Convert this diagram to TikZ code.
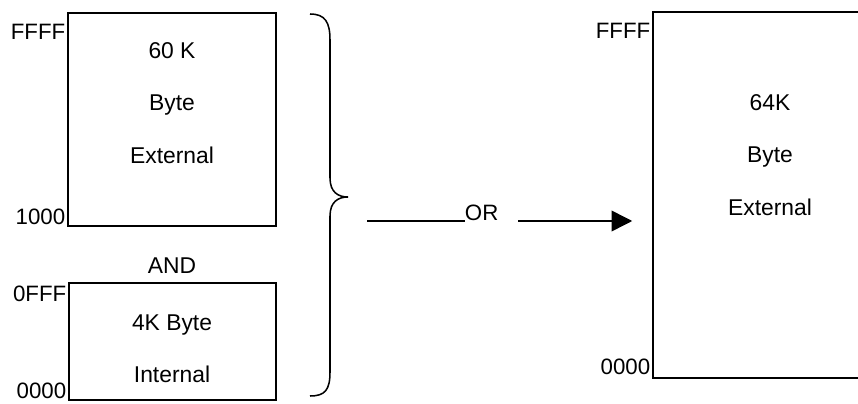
\documentclass[tikz,border=0pt]{standalone}
\usepackage{fontspec}
\setmainfont{Liberation Sans}
\usepackage{tikz}
\usetikzlibrary{arrows.meta, positioning, calc}
\tikzstyle{mem} = [rectangle, draw=black, line width=1.3pt, inner sep=0pt]
\tikzstyle{addr} = [inner sep=1.5pt, font=\fontsize{19}{22}\selectfont]
\tikzstyle{txt} = [align=center, font=\fontsize{19.5}{45}\selectfont]
\tikzstyle{line} = [line width=1.3pt]
\tikzstyle{arrow} = [line width=1.3pt, -{Triangle[length=0.62cm, width=0.62cm]}]

\begin{document}
\begin{tikzpicture}
    \useasboundingbox (0,0) rectangle (25.74,12.09);
    \clip (0,0) rectangle (25.74,12.09);

    % the two parts of the split memory
    \node (memhi) [mem, minimum width=6.24cm, minimum height=6.39cm] at (5.16,8.505) {};
    \node (memlo) [mem, minimum width=6.21cm, minimum height=3.51cm] at (5.175,1.845) {};
    % the single external memory (runs off the right edge)
    \node (memall) [mem, minimum width=7.02cm, minimum height=10.98cm] at (23.1,6.24) {};

    \node (txthi) [txt] at (5.16,9.0) {60 K\\Byte\\External};
    \node (txtlo) [txt] at (5.16,1.63) {4K Byte\\Internal};
    \node (txtall) [txt] at (23.1,7.44) {64K\\Byte\\External};
    \node (and) [txt, below=0.8cm of memhi.south] {AND};

    % address labels
    \node (ffffA) [addr, anchor=north east] at ([yshift=-0.3cm]memhi.north west) {FFFF};
    \node (h1000) [addr, anchor=south east] at (memhi.south west) {1000};
    \node (h0fff) [addr, anchor=north east] at ([yshift=-0.05cm]memlo.north west) {0FFF};
    \node (h0000A) [addr, anchor=south east] at (memlo.south west) {0000};
    \node (ffffB) [addr, anchor=north east] at ([yshift=-0.3cm]memall.north west) {FFFF};
    \node (h0000B) [addr, anchor=south east] at ([yshift=0.05cm]memall.south west) {0000};

    % brace grouping both parts
    \coordinate (bt) at (9.3,11.67);
    \coordinate (btip) at (10.44,6.18);
    \coordinate (bb) at (9.3,0.21);
    \draw [line] (bt) .. controls (9.75,11.67) and (9.9,11.43) .. (9.9,10.89)
        -- (9.9,6.75) .. controls (9.9,6.33) and (10.14,6.18) .. (btip)
        .. controls (10.14,6.18) and (9.9,6.03) .. (9.9,5.61)
        -- (9.9,0.93) .. controls (9.9,0.39) and (9.75,0.21) .. (bb);

    \node (orlab) [addr, inner sep=0pt, anchor=base] at (14.45,5.46) {OR};
    \coordinate (lineL) at (11.01,5.46);
    \coordinate (arrStart) at (15.54,5.46);
    \coordinate (arrEnd) at ([xshift=-0.6cm]memall.west |- orlab.base);
    \draw [line] (lineL) -- (orlab.base west);
    \draw [arrow] (arrStart) -- (arrEnd);
\end{tikzpicture}
\end{document}
